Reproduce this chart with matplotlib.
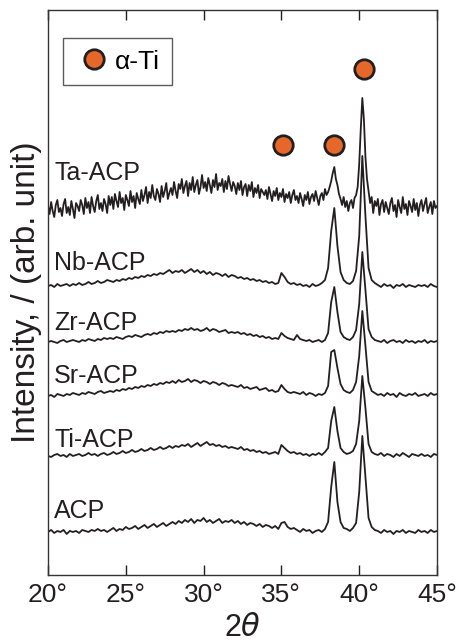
import numpy as np
import matplotlib
matplotlib.use('Agg')
import matplotlib.pyplot as plt
from matplotlib.lines import Line2D

plt.rcParams['font.family'] = ['Liberation Sans', 'DejaVu Sans']

# 2theta grids ##########################################
two_theta = np.round(np.arange(20.0, 45.0001, 0.2), 1)      # 0.2 deg step
two_theta_fine = np.round(np.arange(20.0, 45.0001, 0.1), 1)  # 0.1 deg step (Ta-ACP)

# Intensities above each baseline (arb. unit) ##########
acp = [0, 2, -1, 1, 0, 2, -2, 1, 0, 1, -1, 2, 1, 0, 2, 1, 3, 1, 2, 0,
       2, 4, 1, 3, 2, 5, 3, 4, 6, 3, 5, 7, 4, 6, 8, 5, 7, 9, 6, 8,
       10, 8, 11, 9, 12, 10, 13, 9, 12, 11, 14, 10, 12, 9, 11, 13, 9, 11, 10, 12,
       9, 11, 8, 10, 7, 9, 8, 6, 8, 5, 7, 6, 4, 6, 3, 9, 10, 5, 3, 4,
       2, 0, 3, 1, 2, -1, 1, 2, 0, 3, 10, 45, 70, 30, 10, 4, 3, 1, 4, 9,
       40, 96, 55, 14, 5, 2, 1, -1, 2, 0, 1, -2, 1, 0, 2, -1, 1, 0, -1, 2,
       0, 1, -1, 2, 0, 1]
ti_acp = [0, -1, 1, 2, 0, 1, -1, 2, 0, 1, 2, 0, 1, 3, 1, 2, 0, 2, 3, 1,
          2, 4, 2, 3, 5, 3, 4, 6, 4, 5, 7, 5, 6, 8, 6, 7, 9, 7, 8, 10,
          8, 10, 9, 11, 10, 12, 9, 11, 13, 10, 12, 14, 11, 12, 10, 11, 9, 10, 8, 9,
          8, 7, 9, 6, 7, 5, 6, 4, 5, 3, 4, 2, 3, 4, 2, 11, 8, 5, 3, 4,
          2, 3, 1, 2, 0, 2, 1, 3, 1, 4, 8, 35, 49, 25, 8, 4, 2, 3, 5, 12,
          35, 80, 48, 12, 4, 2, 1, 3, 0, 2, 1, -1, 2, 0, 3, 1, -1, 2, 1, 0,
          2, 0, 1, -1, 2, 1]
sr_acp = [0, 1, -1, 2, 1, 0, 2, 1, 3, 2, 1, 3, 2, 4, 3, 2, 4, 5, 3, 4,
          5, 4, 6, 5, 7, 6, 8, 7, 9, 8, 10, 9, 11, 10, 12, 11, 13, 12, 14, 13,
          15, 13, 16, 14, 15, 17, 14, 16, 15, 13, 15, 14, 12, 14, 13, 11, 13, 12, 10, 11,
          10, 9, 11, 8, 9, 7, 8, 9, 6, 7, 8, 5, 6, 4, 5, 11, 7, 4, 3, 4,
          3, 2, 4, 1, 3, 2, 0, 2, 1, 3, 10, 44, 46, 28, 12, 6, 4, 3, 6, 14,
          40, 85, 50, 14, 5, 3, 1, 2, 0, 3, 1, 2, -1, 3, 1, 0, 2, 1, 3, 0,
          1, 2, 0, 3, 1, 2]
zr_acp = [0, 1, 0, -1, 1, 2, 0, 1, 2, 1, 0, 2, 1, 3, 2, 1, 3, 2, 4, 3,
          4, 3, 5, 4, 3, 5, 6, 5, 7, 6, 5, 7, 8, 7, 9, 8, 10, 9, 11, 10,
          11, 10, 12, 11, 13, 12, 14, 12, 13, 11, 12, 14, 11, 13, 12, 10, 11, 12, 9, 10,
          9, 10, 8, 9, 7, 8, 6, 7, 5, 6, 4, 5, 3, 4, 3, 9, 6, 4, 3, 2,
          7, 3, 2, 1, 2, 0, 1, 2, 0, 2, 9, 40, 55, 30, 10, 5, 3, 2, 5, 12,
          38, 90, 52, 13, 5, 2, 1, 0, 2, -1, 1, 2, 0, 1, -1, 2, 0, 1, -1, 1,
          0, 2, -1, 1, 0, 1]
nb_acp = [0, 1, -1, 2, 0, 1, 2, 0, 2, 1, 3, 1, 2, 4, 2, 3, 5, 3, 4, 6,
          5, 4, 6, 5, 7, 6, 8, 7, 9, 8, 10, 9, 11, 10, 12, 11, 13, 12, 14, 16,
          13, 15, 14, 16, 13, 15, 17, 14, 16, 13, 15, 12, 14, 11, 13, 12, 10, 12, 9, 11,
          10, 8, 9, 7, 8, 6, 7, 5, 6, 4, 5, 3, 4, 2, 3, 13, 9, 4, 2, 3,
          1, 2, 0, 1, -1, 2, 0, 1, 3, 6, 18, 55, 78, 40, 14, 6, 3, 2, 5, 15,
          50, 130, 70, 18, 6, 3, 1, -1, 2, 0, 1, -2, 1, 0, 2, -1, 1, 0, -1, 1,
          0, 1, -1, 2, 0, -1]
ta_acp = [3, -5, 7, -2, -8, 4, 9, -3, 1, -7, 5, 10, -4, 2, -6, 8, 0, -9, 6, 3,
          -2, 9, 4, -5, 11, 1, 7, -4, 12, 3, -3, 8, 14, 0, 6, -2, 10, 5, -4, 13,
          4, 12, 0, 15, 8, 2, 17, 6, 11, -1, 14, 9, 3, 18, 7, 13, 1, 16, 10, 5,
          19, 8, 14, 22, 6, 17, 11, 24, 13, 9, 20, 15, 7, 23, 12, 18, 26, 10, 16, 21,
          14, 27, 18, 11, 25, 20, 30, 16, 23, 28, 13, 26, 19, 32, 17, 24, 29, 15, 22, 34,
          21, 27, 18, 31, 24, 16, 29, 22, 35, 19, 26, 23, 30, 17, 28, 20, 33, 25, 18, 27,
          23, 15, 26, 19, 28, 14, 22, 25, 13, 24, 18, 27, 12, 21, 16, 24, 11, 20, 17, 14,
          19, 10, 22, 15, 8, 18, 13, 21, 9, 16, 12, 20, 7, 15, 11, 17, 6, 14, 19, 9,
          13, 6, 16, 10, 3, 14, 9, 17, 5, 12, 15, 8, 18, 11, 4, 13, 16, 9, 20, 14,
          17, 22, 28, 36, 42, 30, 24, 15, 10, 4, 12, 2, 8, -2, 6, 9, 1, 11, 14, 22,
          45, 80, 111, 90, 52, 30, 18, 6, 12, -4, 8, 3, 10, -6, 5, 9, -3, 7, 1, -5,
          6, 11, -2, 4, -8, 9, 2, -4, 12, 0, 5, -6, 8, 3, -3, 10, -1, 6, -7, 4,
          9, -2, 5, 11, -4, 2, 7, -5, 8, 1, 3]

samples = ['ACP', 'Ti-ACP', 'Sr-ACP', 'Zr-ACP', 'Nb-ACP', 'Ta-ACP']
patterns = [acp, ti_acp, sr_acp, zr_acp, nb_acp, ta_acp]
grids = [two_theta] * 5 + [two_theta_fine]

# alpha-Ti reflections marked above the patterns
ti_peaks_x = [35.1, 38.4, 40.3]
ti_peaks_y = [430, 430, 506]

# Plot #################################################
offsets = [43, 119, 179, 233, 289, 366]
label_dy = [14, 9, 13, 12, 16, 29]
line_col = '#231f20'
orange = '#e5672a'

fig = plt.figure(figsize=(4.59, 6.43), dpi=100)
ax = fig.add_axes([0.1046, 0.1058, 0.8475, 0.8786])

for name, x, vals, off, dy in zip(samples, grids, patterns, offsets, label_dy):
    ax.plot(x, np.array(vals) + off, color=line_col, linewidth=1.3)
    ax.text(20.4, off + dy, name, fontsize=18, color=line_col, va='baseline')

ax.plot(ti_peaks_x, ti_peaks_y, 'o', markersize=14, markerfacecolor=orange,
        markeredgecolor=line_col, markeredgewidth=2, linestyle='none')

handle = Line2D([], [], marker='o', linestyle='none', markersize=14,
                markerfacecolor=orange, markeredgecolor=line_col, markeredgewidth=2)
leg = ax.legend([handle], ['α-Ti'], loc='upper left', bbox_to_anchor=(0.039, 0.951),
                fontsize=19, frameon=True, fancybox=False, handletextpad=0.1,
                borderpad=0.45, handlelength=1.4, borderaxespad=0)
leg.get_frame().set_edgecolor('#333333')
leg.get_frame().set_linewidth(1.0)

ax.set_xlim(20, 45)
ax.set_ylim(0, 565)
ax.set_xticks([20, 25, 30, 35, 40, 45])
ax.set_xticklabels(['20°', '25°', '30°', '35°', '40°', '45°'])
ax.set_yticks([])
ax.tick_params(axis='x', direction='in', top=True, length=7, width=1,
               labelsize=19, colors=line_col, pad=6)
for s in ax.spines.values():
    s.set_color('#333333')
    s.set_linewidth(1.0)

ax.set_xlabel('2$\\theta$', fontsize=22, color=line_col, labelpad=4)
ax.set_ylabel('Intensity, / (arb. unit)', fontsize=24, color=line_col, labelpad=4)

fig.savefig('out.png', dpi=100)
